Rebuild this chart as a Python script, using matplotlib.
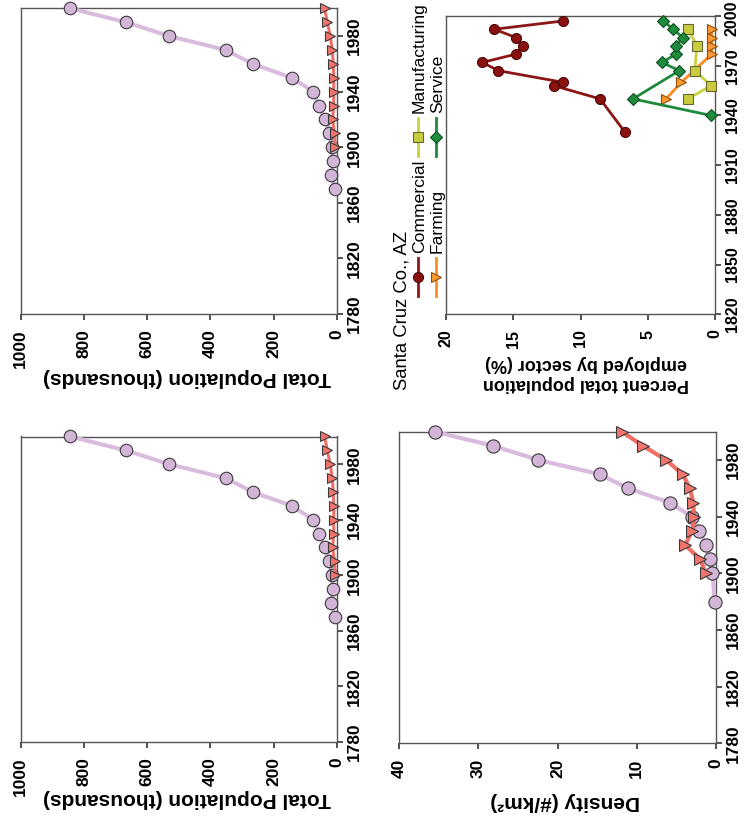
import matplotlib
matplotlib.use("Agg")
import matplotlib.pyplot as plt
import matplotlib.transforms as mtransforms
from matplotlib.lines import Line2D

plt.rcParams['font.family'] = ['Liberation Sans', 'DejaVu Sans']

# ---------------- data ----------------
pima_years = [1870, 1880, 1890, 1900, 1910, 1920, 1930, 1940, 1950, 1960, 1970, 1980, 1990, 2000]
pima_pop_k = [6, 18, 13, 16, 23, 36, 56, 74, 142, 266, 351, 530, 667, 844]

sc_years = [1900, 1910, 1920, 1930, 1940, 1950, 1960, 1970, 1980, 1990, 2000]
sc_pop_k = [4.5, 6.8, 12.7, 9.7, 9.2, 9.3, 10.8, 14.0, 20.5, 29.7, 38.4]

pima_dens_years = [1880, 1900, 1910, 1920, 1930, 1940, 1950, 1960, 1970, 1980, 1990, 2000]
pima_density = [0.15, 0.45, 0.8, 1.25, 2.15, 3.05, 5.85, 11.1, 14.7, 22.4, 28.1, 35.5]
sc_density = [1.3, 2.0, 3.9, 3.0, 2.8, 2.85, 3.3, 4.2, 6.3, 9.2, 11.9]

commercial_years = [1930, 1950, 1958, 1960, 1967, 1972, 1977, 1982, 1987, 1992, 1997]
commercial = [6.7, 8.55, 12.0, 11.3, 16.1, 17.3, 14.8, 14.3, 14.8, 16.4, 11.3]
manufacturing_years = [1950, 1958, 1967, 1982, 1992]
manufacturing = [2.0, 0.3, 1.5, 1.35, 2.0]
service_years = [1940, 1950, 1967, 1972, 1977, 1982, 1987, 1992, 1997]
service = [0.3, 6.1, 2.65, 3.95, 2.9, 2.9, 2.4, 3.1, 3.85]
farming_years = [1950, 1960, 1977, 1982, 1987, 1992]
farming = [3.65, 2.5, 0.25, 0.25, 0.25, 0.25]

pop_ticks = [0, 200, 400, 600, 800, 1000]
dens_ticks = [0, 10, 20, 30, 40]
pct_ticks = [0, 5, 10, 15, 20]
year_ticks_a = [1780, 1820, 1860, 1900, 1940, 1980]
year_ticks_b = [1820, 1850, 1880, 1910, 1940, 1970, 2000]

legend_title = "Santa Cruz Co., AZ"
sector_names = ["Commercial", "Farming", "Manufacturing", "Service"]

# ---------------- layout helpers ----------------
W, H = 750, 823
fig = plt.figure(figsize=(W / 100, H / 100), dpi=100)


def fx(x):
    return x / W


def fy(y):
    return 1 - y / H


def box(x0, x1, y0, y1):
    return [fx(x0), fy(y1), (x1 - x0) / W, (y1 - y0) / H]


SPINE = '#555555'
PURPLE_L, PURPLE_M = '#D9BCDD', '#D3B5D8'
RED_L, RED_M = '#EF6E66', '#F2746C'
EDGE = '#3a3a3a'


def style(ax, vmax, vticks, ylo, yhi, yticks, label, lab_x, lab_top,
          tsize=12.5, lsize=15):
    ax.set_xlim(vmax, 0)
    ax.set_ylim(ylo, yhi)
    ax.set_xticks(vticks)
    ax.set_yticks(yticks)
    ax.yaxis.tick_right()
    ax.tick_params(axis='both', direction='out', length=4.5, width=1.1,
                   color='#222222', labelsize=tsize)
    ax.tick_params(axis='x', pad=6.5)
    ax.tick_params(axis='y', pad=2.5)
    ax.set_xticklabels([str(v) for v in vticks], rotation=90, fontweight='bold')
    ax.set_yticklabels([str(v) for v in yticks], rotation=90, fontweight='bold',
                       va='center')
    for s in ax.spines.values():
        s.set_color(SPINE)
        s.set_linewidth(1.0)
    ax.set_xlabel(label, rotation=180, fontsize=lsize, fontweight='bold',
                  va='top', ha='center', linespacing=1.25)
    ax.xaxis.set_label_coords(fx(lab_x), fy(lab_top), transform=fig.transFigure)


def pop_panel(rect, lab_top):
    ax = fig.add_axes(box(*rect))
    ax.plot(pima_pop_k, pima_years, color=PURPLE_L, lw=2.9, marker='o', ms=9,
            mfc=PURPLE_M, mec=EDGE, mew=0.8, clip_on=False, zorder=3)
    ax.plot(sc_pop_k, sc_years, color=RED_L, lw=2.2, marker='>', ms=7.5,
            mfc=RED_M, mec=EDGE, mew=0.8, clip_on=False, zorder=4)
    style(ax, 1000, pop_ticks, 1780, 2000, year_ticks_a,
          'Total Population (thousands)', 187, lab_top)
    return ax


# left column: total population
pop_panel((20.7, 336.7, 8.3, 314.0), 368)
pop_panel((20.7, 336.7, 436.5, 741.7), 789)

# bottom-right: density
axd = fig.add_axes(box(399, 716, 431.7, 743.3))
axd.plot(pima_density, pima_dens_years, color=PURPLE_L, lw=3.0, marker='o', ms=9.5,
         mfc=PURPLE_M, mec=EDGE, mew=0.8, clip_on=False, zorder=3)
axd.plot(sc_density, sc_years, color=RED_L, lw=3.0, marker='>', ms=8.5,
         mfc=RED_M, mec=EDGE, mew=0.8, clip_on=False, zorder=4)
style(axd, 40, dens_ticks, 1780, 2000, year_ticks_a,
      'Density (#/km²)', 565, 792)

# top-right: percent employed by sector
axp = fig.add_axes(box(446, 715, 16, 314.3))
series = [
    (commercial_years, commercial, '#8C1515', '#8B1111', '#4a0808', 'o', 7.2),
    (farming_years, farming, '#FF8C1E', '#FF9A30', '#8A5010', '>', 7.0),
    (manufacturing_years, manufacturing, '#C8D23A', '#C9CC3F', '#666633', 's', 6.5),
    (service_years, service, '#1F8A3B', '#1E8C3C', '#0E4F20', 'D', 6.3),
]
draw_order = [0, 2, 3, 1]
for i in draw_order:
    yrs, vals, lc, mfc, mec, mk, ms = series[i]
    axp.plot(vals, yrs, color=lc, lw=2.0, marker=mk, ms=ms, mfc=mfc, mec=mec,
             mew=0.8, clip_on=False, zorder=3 + i)
style(axp, 20, pct_ticks, 1820, 2000, year_ticks_b,
      'Percent total population\nemployed by sector (%)', 586, 355,
      tsize=11.5, lsize=13)

# manual (rotated) legend
fig.text(fx(402.5), fy(390), legend_title, rotation=90, ha='center', va='bottom',
         fontsize=13.3)
leg_pos = [(418, 277, 253), (436, 277, 253), (418, 137, 113), (436, 137, 113)]
for (name, (yrs, vals, lc, mfc, mec, mk, ms), (x, ym, yt)) in zip(
        sector_names, series, leg_pos):
    ln = Line2D([fx(x)] * 3, [fy(ym + 19), fy(ym), fy(ym - 19)],
                transform=fig.transFigure, color=lc, lw=2.0, marker=mk, ms=ms,
                mfc=mfc, mec=mec, mew=0.8, markevery=[1])
    fig.add_artist(ln)
    fig.text(fx(x + 1.5), fy(yt), name, rotation=90, ha='center', va='bottom',
             fontsize=12.6)

# keep the topmost year label of the percent panel inside the image
fig.canvas.draw()
top_lab = axp.get_yticklabels()[-1]
shift = mtransforms.ScaledTranslation(0, -2.5 / 100, fig.dpi_scale_trans)
top_lab.set_transform(top_lab.get_transform() + shift)

fig.savefig('out.png', dpi=100)
